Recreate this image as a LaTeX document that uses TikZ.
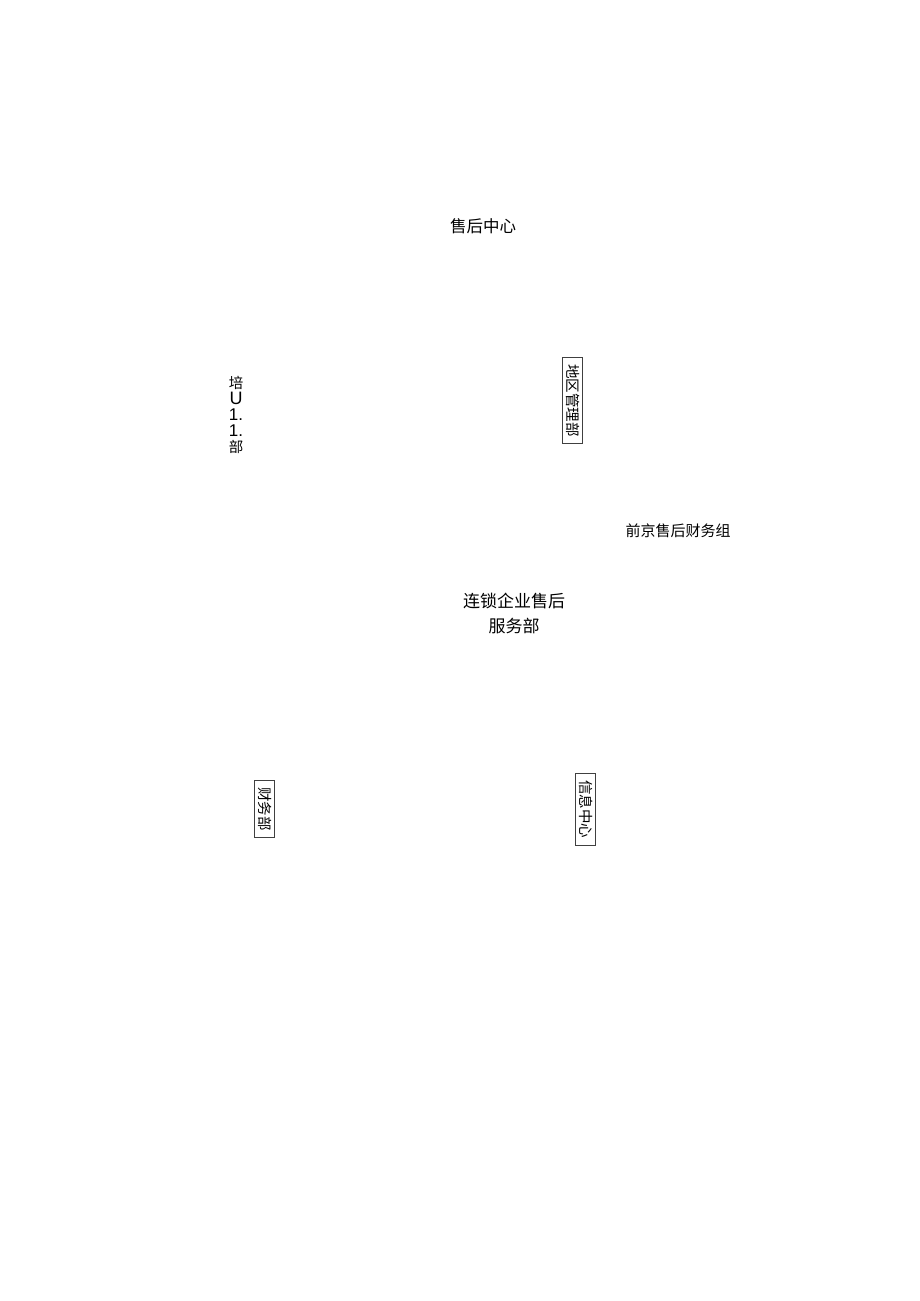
\documentclass[tikz,border=0pt]{standalone}
\usepackage{fontspec}
\setmainfont{Noto Sans CJK SC}
\newfontfamily\latinfont{Liberation Sans}
\usepackage{tikz}
\usetikzlibrary{positioning}

\begin{document}
\begin{tikzpicture}[x=1pt, y=-1pt,
    unit/.style={inner sep=0pt, font=\fontsize{16.5}{25}\selectfont, align=center},
    vbox/.style={draw=black!75, line width=0.6pt, rotate=-90, font=\fontsize{14.5}{16}\selectfont,
        inner xsep=7pt, inner ysep=3pt, text height=12pt, text depth=2pt},
    stack/.style={inner sep=0pt, font=\fontsize{14.5}{16}\selectfont, align=center}
]

% Page frame
\useasboundingbox (0,0) rectangle (920,1301);

% Top level
\node[unit] (center) at (483,226) {售后中心};

% Second row
\node[stack] (train) at (236,415) {培\\{\latinfont\fontsize{18}{16}\selectfont U}\\{\latinfont\fontsize{17}{16}\selectfont 1.}\\{\latinfont\fontsize{17}{16}\selectfont 1.}\\部};
\node[vbox] (region) at (572.5,400.5) {地区管理部};

% Middle
\node[unit, font=\fontsize{15}{20}\selectfont] (finance) at (678,531) {前京售后财务组};
\node[unit, font=\fontsize{17}{25}\selectfont] (chain) at (514,613) {连锁企业售后\\服务部};

% Bottom row
\node[vbox] (accounts) at (264.5,809) {财务部};
\node[vbox] (info) at (585,809) {信息中心};

\end{tikzpicture}
\end{document}
